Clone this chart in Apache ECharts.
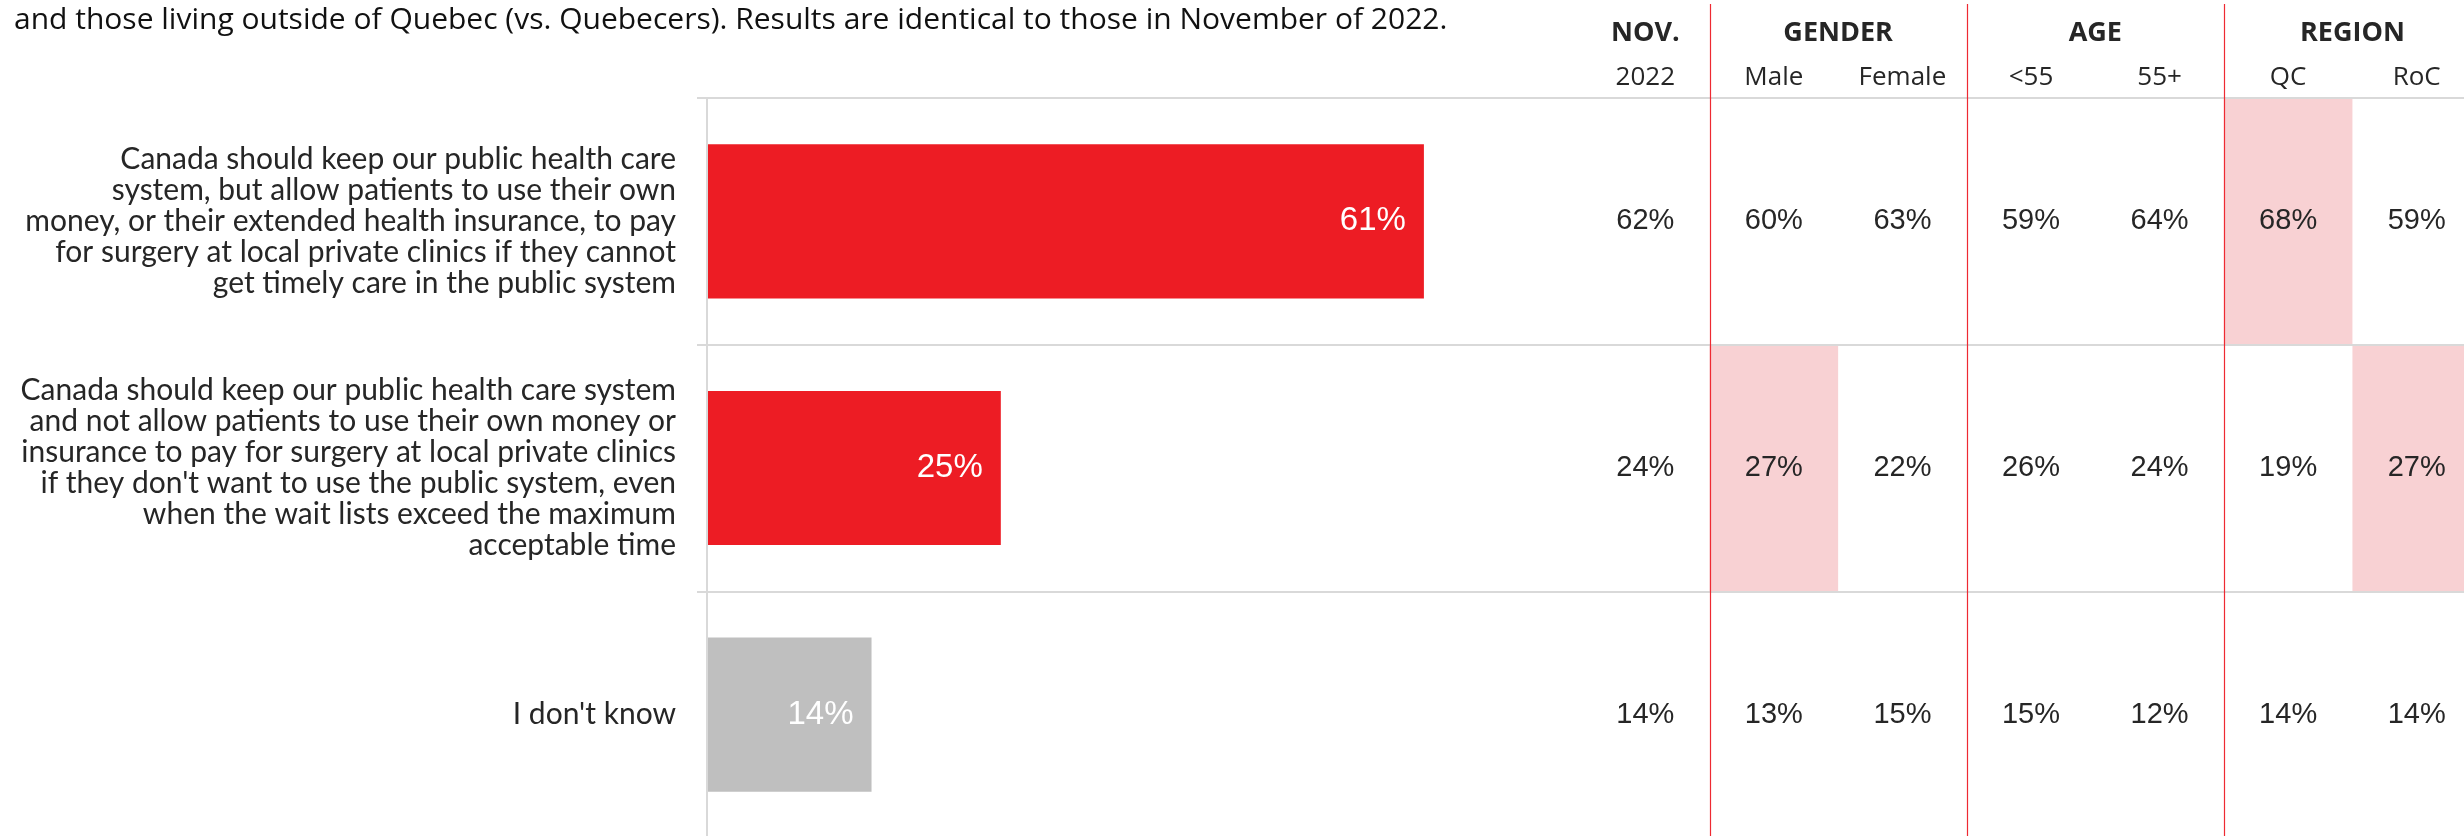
<!DOCTYPE html>
<html>
<head>
<meta charset="utf-8">
<script src="https://cdn.jsdelivr.net/npm/echarts@6/dist/echarts.min.js"></script>
<style>
html,body{margin:0;padding:0;background:#fff;}
#chart{width:2464px;height:836px;}
</style>
</head>
<body>
<div id="chart"></div>
<script>
// ---- data ----
const subtitleText = 'and those living outside of Quebec (vs. Quebecers). Results are identical to those in November of 2022.';
const categories = [
  'Canada should keep our public health care\nsystem, but allow patients to use their own\nmoney, or their extended health insurance, to pay\nfor surgery at local private clinics if they cannot\nget timely care in the public system',
  'Canada should keep our public health care system\nand not allow patients to use their own money or\ninsurance to pay for surgery at local private clinics\nif they don\'t want to use the public system, even\nwhen the wait lists exceed the maximum\nacceptable time',
  'I don\'t know'
];
const overall = [61, 25, 14];
const columns = ['2022', 'Male', 'Female', '<55', '55+', 'QC', 'RoC'];
const groupHeaders = ['NOV.', 'GENDER', 'AGE', 'REGION'];
const groupSizes = [1, 2, 2, 2];
const nov2022 = [62, 24, 14];
const male = [60, 27, 13];
const female = [63, 22, 15];
const under55 = [59, 26, 15];
const over55 = [64, 24, 12];
const qc = [68, 19, 14];
const roc = [59, 27, 14];
const highlights = [
  [0, 0, 0, 0, 0, 1, 0],
  [0, 1, 0, 0, 0, 0, 1],
  [0, 0, 0, 0, 0, 0, 0]
];

// ---- styles ----
const RED = '#ED1C24', GREY = '#BFBFBF', PINK = '#F8D1D3', GRIDC = '#D9D9D9', TXT = '#262626', SEP = '#EE2A32';
const barColors = [RED, RED, GREY];

const columnSeries = [nov2022, male, female, under55, over55, qc, roc];
const cells = [];
columnSeries.forEach((arr, c) => arr.forEach((v, r) => cells.push([c, r, v, highlights[r][c]])));

// group header centres on value axis (-0.5 .. 6.5)
const groupCentres = {};
const groupBounds = [];
let start = 0;
groupSizes.forEach((n, i) => {
  groupCentres[(start + (n - 1) / 2).toFixed(2)] = groupHeaders[i];
  start += n;
  if (i < groupSizes.length - 1) groupBounds.push(start - 0.5);
});

const chart = echarts.init(document.getElementById('chart'));
const option = {
  backgroundColor: '#fff',
  animation: false,
  title: {
    text: subtitleText, left: 9, top: 0,
    textStyle: {fontFamily: 'Open Sans', fontSize: 30, fontWeight: 'normal', color: '#111'}
  },
  grid: [
    {left: 707, right: 0, top: 98, bottom: -2, containLabel: false, outerBoundsMode: 'none'},
    {left: 1581, width: 900, top: 98, bottom: -2, containLabel: false, outerBoundsMode: 'none'}
  ],
  xAxis: [
    {gridIndex: 0, type: 'value', min: 0, max: 149.5, show: false},
    {gridIndex: 1, type: 'category', data: columns, position: 'top',
      axisLine: {show: false}, axisTick: {show: false}, splitLine: {show: false},
      axisLabel: {margin: 20, verticalAlign: 'middle', fontFamily: 'Open Sans', fontSize: 26, color: TXT}},
    {gridIndex: 1, type: 'value', min: -0.5, max: 6.5, interval: 0.5, position: 'top',
      axisLine: {show: false}, axisTick: {show: false}, splitLine: {show: false},
      axisLabel: {margin: 65, verticalAlign: 'middle', fontFamily: 'Open Sans', fontSize: 27, fontWeight: 'bold', color: TXT,
        showMinLabel: true, showMaxLabel: true,
        formatter: v => groupCentres[Number(v).toFixed(2)] || ''}}
  ],
  yAxis: [
    {gridIndex: 0, type: 'category', data: categories, inverse: true, z: 5,
      axisLine: {show: true, lineStyle: {color: GRIDC, width: 2}},
      axisTick: {show: true, length: 10, lineStyle: {color: GRIDC, width: 2}},
      splitLine: {show: true, lineStyle: {color: GRIDC, width: 2}},
      axisLabel: {margin: 31, fontFamily: 'Lato', fontSize: 30, lineHeight: 31, color: TXT, align: 'right'}},
    {gridIndex: 1, type: 'category', data: categories.map((_, i) => i), inverse: true, show: false}
  ],
  series: [
    {type: 'bar', xAxisIndex: 0, yAxisIndex: 0, data: overall, barWidth: '62.5%', z: 3,
      itemStyle: {color: p => barColors[p.dataIndex]},
      label: {show: true, position: 'insideRight', distance: 18, formatter: '{c}%',
        fontFamily: 'Liberation Sans', fontSize: 33, color: '#fff'}},
    {type: 'custom', xAxisIndex: 1, yAxisIndex: 1, data: cells, z: 1,
      renderItem: function (params, api) {
        const pt = api.coord([api.value(0), api.value(1)]);
        const sz = api.size([1, 1]);
        const children = [];
        if (api.value(3)) {
          children.push({type: 'rect', shape: {x: pt[0] - sz[0] / 2, y: pt[1] - sz[1] / 2, width: sz[0], height: sz[1]},
            style: {fill: PINK}});
        }
        children.push({type: 'text', style: {text: api.value(2) + '%', x: pt[0], y: pt[1], align: 'center', verticalAlign: 'middle',
          fontFamily: 'Liberation Sans', fontSize: 29, fill: TXT}});
        return {type: 'group', children: children};
      }}
  ]
};
chart.setOption(option);

// red group separators, positioned through the table's value axis
const seps = groupBounds.map(b => {
  const x = Math.round(chart.convertToPixel({xAxisIndex: 2}, b)) + 0.5;
  return {type: 'line', z: 10, shape: {x1: x, y1: 4, x2: x, y2: 836}, style: {stroke: SEP, lineWidth: 1.2}};
});
chart.setOption({graphic: seps});
</script>
</body>
</html>
